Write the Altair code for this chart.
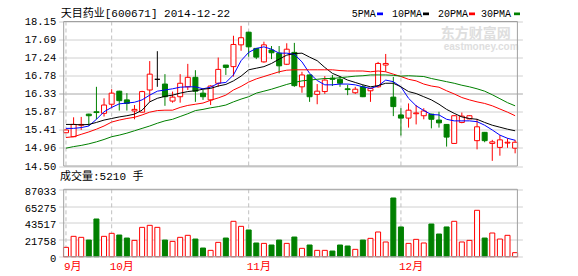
import altair as alt
import pandas as pd

# ---------------- data ----------------
day_index = list(range(60))
month_labels = ["9月", "10月", "11月", "12月"]
month_start = [0, 6, 24, 44]
price_ticks = [14.50, 14.96, 15.41, 15.87, 16.33, 16.78, 17.24, 17.69, 18.15]
volume_ticks = [0, 21758, 43517, 65275, 87033]

opens = [15.34, 15.24, 15.53, 15.81, 15.87, 15.83, 16.06, 16.39, 16.17, 15.89,
         15.86, 16.42, 16.69, 16.57, 16.14, 16.25, 16.50, 16.74, 16.34, 16.17,
         16.59, 17.05, 17.01, 17.56, 17.88, 17.47, 17.13, 17.43, 17.35, 17.07,
         17.37, 16.50, 16.80, 16.31, 16.38, 16.72, 16.69, 16.45, 16.35, 16.50,
         16.40, 16.50, 17.05, 16.24, 15.79, 15.71, 15.82, 15.77, 15.81, 15.66,
         15.55, 15.07, 15.60, 15.69, 15.14, 15.35, 15.07, 14.97, 15.08, 14.95]
highs = [15.42, 15.73, 15.74, 15.82, 16.50, 16.21, 16.44, 16.40, 16.34, 16.04,
         16.40, 17.15, 17.40, 16.82, 16.38, 16.82, 17.08, 16.92, 16.42, 16.54,
         17.24, 17.05, 17.79, 18.04, 17.89, 17.48, 17.64, 17.53, 17.53, 17.60,
         17.61, 16.88, 16.81, 16.57, 16.77, 16.80, 16.76, 16.55, 16.50, 16.55,
         16.47, 17.13, 17.33, 16.75, 15.96, 16.08, 16.04, 15.96, 15.82, 15.87,
         15.56, 15.79, 15.85, 15.78, 15.69, 15.36, 15.16, 15.28, 15.20, 15.16]
lows = [15.33, 15.24, 15.41, 15.51, 15.68, 15.75, 15.96, 15.90, 15.90, 15.68,
        15.85, 16.12, 16.50, 16.02, 16.10, 16.10, 16.42, 16.12, 16.17, 16.04,
        16.50, 16.80, 16.76, 17.41, 17.26, 17.20, 17.11, 17.20, 16.84, 17.05,
        16.50, 16.35, 16.12, 16.06, 16.32, 16.52, 16.50, 16.29, 16.32, 16.24,
        16.12, 16.48, 16.88, 15.76, 15.27, 15.47, 15.55, 15.68, 15.45, 15.47,
        14.99, 15.06, 15.58, 15.68, 14.92, 15.10, 14.63, 14.76, 14.96, 14.82]
closes = [15.41, 15.55, 15.55, 15.77, 15.85, 16.04, 16.34, 16.15, 16.08, 15.93,
          16.38, 16.82, 16.69, 16.25, 16.24, 16.59, 16.74, 16.39, 16.25, 16.52,
          16.94, 16.99, 17.57, 17.74, 17.51, 17.25, 17.56, 17.36, 17.03, 17.45,
          16.53, 16.80, 16.25, 16.39, 16.67, 16.69, 16.59, 16.43, 16.44, 16.25,
          16.46, 17.09, 17.09, 16.00, 15.71, 15.91, 15.84, 15.89, 15.68, 15.59,
          15.23, 15.77, 15.76, 15.77, 15.49, 15.14, 15.11, 15.16, 15.10, 15.10]
volumes = [12100, 26300, 25000, 21500, 48700, 26300, 30200, 28000, 24100, 21100,
           37900, 40500, 37900, 21500, 19800, 25000, 27600, 22800, 11200, 8200,
           18500, 24100, 45700, 39200, 34500, 17700, 17200, 15100, 21500, 17200,
           25400, 10800, 15100, 8200, 8200, 7300, 15100, 13800, 9500, 21500,
           23700, 31900, 19000, 75800, 38400, 17200, 22400, 17700, 42200, 29300,
           38400, 45700, 19000, 21100, 59900, 24100, 30600, 22800, 27600, 5210]
ma5 = [15.45, 15.45, 15.47, 15.51, 15.68, 15.87, 15.98, 16.07, 16.09, 16.11,
       16.17, 16.29, 16.39, 16.42, 16.45, 16.49, 16.50, 16.50, 16.45, 16.49,
       16.59, 16.61, 16.80, 17.16, 17.37, 17.47, 17.51, 17.45, 17.35, 17.35,
       17.32, 17.13, 16.84, 16.66, 16.55, 16.55, 16.57, 16.57, 16.55, 16.50,
       16.46, 16.52, 16.67, 16.63, 16.50, 16.21, 16.02, 15.90, 15.80, 15.79,
       15.68, 15.64, 15.64, 15.64, 15.62, 15.53, 15.41, 15.28, 15.20, 15.15]
ma10 = [15.55, 15.55, 15.54, 15.55, 15.60, 15.66, 15.70, 15.74, 15.77, 15.81,
        15.91, 16.12, 16.21, 16.26, 16.29, 16.34, 16.38, 16.40, 16.44, 16.46,
        16.52, 16.56, 16.65, 16.77, 16.93, 16.97, 17.01, 17.09, 17.20, 17.30,
        17.34, 17.35, 17.25, 17.16, 16.99, 16.84, 16.76, 16.67, 16.61, 16.55,
        16.50, 16.53, 16.59, 16.59, 16.50, 16.38, 16.33, 16.25, 16.17, 16.06,
        15.93, 15.83, 15.74, 15.70, 15.68, 15.60, 15.53, 15.48, 15.43, 15.39]
ma20 = [15.22, 15.24, 15.30, 15.36, 15.43, 15.51, 15.61, 15.66, 15.70, 15.73,
        15.79, 15.86, 15.90, 15.91, 15.91, 15.98, 16.03, 16.06, 16.09, 16.16,
        16.22, 16.29, 16.42, 16.51, 16.62, 16.70, 16.76, 16.82, 16.88, 16.92,
        16.93, 16.93, 16.93, 16.93, 16.93, 16.93, 16.91, 16.90, 16.90, 16.90,
        16.88, 16.90, 16.88, 16.82, 16.76, 16.69, 16.65, 16.57, 16.52, 16.49,
        16.40, 16.32, 16.23, 16.17, 16.12, 16.08, 16.02, 15.94, 15.86, 15.77]
ma30 = [14.95, 14.99, 15.02, 15.06, 15.11, 15.17, 15.24, 15.28, 15.33, 15.39,
        15.45, 15.51, 15.58, 15.64, 15.68, 15.75, 15.82, 15.90, 15.93, 15.97,
        16.00, 16.04, 16.12, 16.19, 16.25, 16.34, 16.39, 16.44, 16.50, 16.56,
        16.61, 16.65, 16.67, 16.69, 16.71, 16.71, 16.73, 16.75, 16.77, 16.78,
        16.80, 16.80, 16.80, 16.79, 16.77, 16.78, 16.77, 16.76, 16.71, 16.67,
        16.63, 16.59, 16.54, 16.50, 16.45, 16.39, 16.30, 16.20, 16.10, 16.02]

stock_title = "天目药业[600671] 2014-12-22"
volume_title = "成交量:5210 手"
ma_names = ["5PMA", "10PMA", "20PMA", "30PMA"]
ma_fields = ["ma5", "ma10", "ma20", "ma30"]
watermark_cn = "东方财富网"
watermark_en = "eastmoney.com"

# ---------------- styles ----------------
FONT = "Liberation Mono, Noto Sans CJK SC"
RED, GREEN, BLUE, BLACK = "#ff0000", "#008000", "#0000ff", "#000000"
MA_COLORS = [BLUE, BLACK, RED, GREEN]
FRAME = "#a0a0a0"
GRID = "#d0d0d0"
WATERMARK = "#dedede"

W, H = 463.7, 235.2          # plot area (both panels)
PRICE_H = 144.5              # price panel height
VOL_TOP, VOL_BOT = 167.8, 235.2

df = pd.DataFrame({
    "i": day_index, "open": opens, "high": highs, "low": lows, "close": closes,
    "vol": volumes, "ma5": ma5, "ma10": ma10, "ma20": ma20, "ma30": ma30,
})
df["dir"] = ["up" if c > o else ("down" if c < o else "flat") for o, c in zip(opens, closes)]
df["vdir"] = ["down" if c < o else "up" for o, c in zip(opens, closes)]
months = pd.DataFrame({"i": month_start, "m": month_labels})

label_expr = " : ".join(f"datum.value == {k} ? '{m}'" for k, m in zip(month_start, month_labels)) + " : ''"

XS = alt.Scale(domain=[-0.3, 59.3], nice=False, zero=False)
XA = alt.Axis(values=month_start, labelExpr=label_expr, grid=False, ticks=False, domain=False,
              labelColor=RED, labelFont=FONT, labelFontSize=11, labelAlign="left",
              labelBaseline="top", labelPadding=4, labelOffset=-2.5, labelFlush=False,
              labelOverlap=False, title=None)
PS = alt.Scale(domain=[14.5, 18.15], range=[PRICE_H, 0], nice=False, zero=False)
PA = alt.Axis(values=price_ticks, format=".2f", orient="left", grid=True,
              gridColor={"condition": {"test": "datum.value == 16.33", "value": "#a8a8a8"}, "value": GRID},
              domain=False, ticks=False, labelFont=FONT, labelFontSize=10.5, labelColor=BLACK,
              labelPadding=3, labelFlush=False, labelOverlap=False, title=None)
VS = alt.Scale(domain=[0, 87033], range=[VOL_BOT, VOL_TOP], nice=False, zero=False)
VA = alt.Axis(values=volume_ticks, format="d", orient="left", grid=True, gridColor=GRID,
              domain=False, ticks=False, labelFont=FONT, labelFontSize=10.5, labelColor=BLACK,
              labelPadding=3, labelFlush=False, labelOverlap=False, labelOffset=2, title=None)

X = alt.X("i:Q", scale=XS, axis=XA)
stroke_enc = alt.Stroke("dir:N", scale=alt.Scale(domain=["up", "down", "flat"], range=[RED, GREEN, BLACK]), legend=None)
fill_enc = alt.Fill("dir:N", scale=alt.Scale(domain=["up", "down", "flat"], range=["#ffffff", GREEN, BLACK]), legend=None)

base = alt.Chart(df)

# ---- price panel ----
price_frame = alt.Chart(pd.DataFrame({"k": [0]})).mark_rect(fillOpacity=0, stroke=FRAME, strokeWidth=1).encode(
    x=alt.XDatum(-0.3, type="quantitative", scale=XS, axis=XA), x2=alt.X2Datum(59.3),
    y=alt.YDatum(price_ticks[-1], type="quantitative", scale=PS, axis=PA), y2=alt.Y2Datum(price_ticks[0]))
price_months = alt.Chart(months).mark_rule(color="#c0c0c0", strokeDash=[4, 3], strokeWidth=1).encode(
    x=X, y=alt.YDatum(price_ticks[-1], type="quantitative", scale=PS, axis=PA), y2=alt.Y2Datum(price_ticks[0]))
wicks = base.mark_rule(strokeWidth=1).encode(
    x=X, y=alt.Y("low:Q", scale=PS, axis=PA), y2="high:Q", stroke=stroke_enc)
bodies = base.mark_bar(size=5, strokeWidth=1).encode(
    x=X, y=alt.Y("open:Q", scale=PS, axis=PA), y2="close:Q", stroke=stroke_enc, fill=fill_enc)
ma_lines = [base.mark_line(color=c, strokeWidth=1).encode(x=X, y=alt.Y(f"{f}:Q", scale=PS, axis=PA))
            for f, c in zip(ma_fields, MA_COLORS)]
price_layer = alt.layer(price_months, wicks, bodies, *ma_lines, price_frame)

# ---- volume panel ----
vol_frame = alt.Chart(pd.DataFrame({"k": [0]})).mark_rect(fillOpacity=0, stroke=FRAME, strokeWidth=1).encode(
    x=alt.XDatum(-0.3, type="quantitative", scale=XS, axis=XA), x2=alt.X2Datum(59.3),
    y=alt.YDatum(volume_ticks[-1], type="quantitative", scale=VS, axis=VA), y2=alt.Y2Datum(volume_ticks[0]))
vol_months = alt.Chart(months).mark_rule(color="#c0c0c0", strokeDash=[4, 3], strokeWidth=1).encode(
    x=X, y=alt.YDatum(volume_ticks[-1], type="quantitative", scale=VS, axis=VA), y2=alt.Y2Datum(volume_ticks[0]))
vol_bars = base.mark_bar(size=5, strokeWidth=1).encode(
    x=X, y=alt.Y("vol:Q", scale=VS, axis=VA), y2=alt.Y2Datum(0),
    stroke=alt.Stroke("vdir:N", scale=alt.Scale(domain=["up", "down", "flat"], range=[RED, GREEN, BLACK]), legend=None),
    fill=alt.Fill("vdir:N", scale=alt.Scale(domain=["up", "down", "flat"], range=["#ffffff", GREEN, BLACK]), legend=None))
vol_layer = alt.layer(vol_months, vol_bars, vol_frame)


# ---- texts ----
def text_layer(t, x, y, size, color=BLACK, font=FONT, weight="normal", align="left"):
    return alt.Chart(pd.DataFrame({"t": [t]})).mark_text(
        align=align, baseline="middle", fontSize=size, font=font, color=color, fontWeight=weight
    ).encode(x=alt.value(x), y=alt.value(y), text="t:N")


def swatch(x0, x1, color):
    return alt.Chart(pd.DataFrame({"k": [0]})).mark_rect(color=color).encode(
        x=alt.value(x0), x2=alt.value(x1), y=alt.value(-9), y2=alt.value(-6.3))


texts = [
    text_layer(watermark_cn, 382, 12, 14, color=WATERMARK, font="Noto Sans CJK SC", weight="bold"),
    text_layer(watermark_en, 385, 25.5, 10, color=WATERMARK, font="Liberation Sans", weight="bold"),
    text_layer(stock_title, 2, -8, 11),
    text_layer(volume_title, 1.3, 155.8, 11),
]
legend_x = [293.0, 333.3, 379.3, 422.3]
legend_sw = [(318.3, 324.3), (364.3, 370.3), (410.3, 416.3), (455.3, 461.3)]
for name, lx, (s0, s1), c in zip(ma_names, legend_x, legend_sw, MA_COLORS):
    texts.append(text_layer(name, lx, -7.5, 10))
    texts.append(swatch(s0, s1, c))

chart = alt.layer(texts[0], texts[1], price_layer, vol_layer, *texts[2:]).resolve_scale(
    y="independent").properties(
    width=W, height=H,
    autosize=alt.AutoSizeParams(type="none"),
    padding={"left": 58.7, "top": 21.5, "right": 578 - 58.7 - W, "bottom": 276 - 21.5 - H},
    background="white",
).configure_view(strokeWidth=0)

chart.save("out.html", embed_options={"renderer": "svg", "actions": False})
